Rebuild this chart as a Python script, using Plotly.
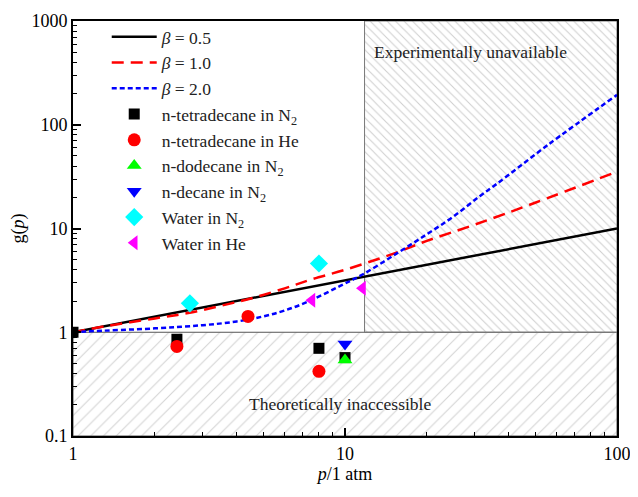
import plotly.graph_objects as go

# ---- data ----
beta05_p = [1, 3.16, 10, 31.6, 100]
beta05_g = [1, 1.78, 3.16, 5.62, 10]

beta10_p = [1, 1.31, 2.0, 2.65, 3.5, 4.6, 6.0, 7.43, 10, 15, 20, 30, 50, 100]
beta10_g = [1, 1.14, 1.36, 1.53, 1.80, 2.15, 2.65, 3.2, 4.0, 5.7, 7.6, 10.9, 17.7, 35.3]

beta20_p = [1, 1.14, 2, 3, 4, 5, 6, 7.4, 9.6, 11.6, 15.5, 20, 25, 31.3, 36.2, 55.3, 100]
beta20_g = [1, 1.02, 1.09, 1.17, 1.27, 1.42, 1.62, 2.0, 2.8, 3.6, 5.75, 8.8, 13.0, 20.5, 27.0, 63.0, 194]

tetN2_p = [1, 2.41, 8.02, 10.0]
tetN2_g = [1, 0.856, 0.70, 0.57]
tetHe_p = [2.41, 4.4, 8.02]
tetHe_g = [0.73, 1.42, 0.42]
dodN2_p = [10.0]
dodN2_g = [0.54]
decN2_p = [10.0]
decN2_g = [0.77]
watN2_p = [2.69, 8.02]
watN2_g = [1.90, 4.6]
watHe_p = [7.56, 11.6]
watHe_g = [2.03, 2.65]

x_range = [1, 100]
y_range = [0.1, 1000]
p_boundary = 11.8
x_ticks = [1, 10, 100]
x_tick_text = ["1", "10", "100"]
y_ticks = [0.1, 1, 10, 100, 1000]
y_tick_text = ["0.1", "1", "10", "100", "1000"]
x_minor = [2, 3, 4, 5, 6, 7, 8, 9, 20, 30, 40, 50, 60, 70, 80, 90]
y_minor = [0.2, 0.3, 0.4, 0.5, 0.6, 0.7, 0.8, 0.9,
           2, 3, 4, 5, 6, 7, 8, 9, 20, 30, 40, 50, 60, 70, 80, 90,
           200, 300, 400, 500, 600, 700, 800, 900]

FONT = "Liberation Serif, Times New Roman, serif"

fig = go.Figure()

# hatched regions
fig.add_trace(go.Scatter(
    x=[x_range[0], x_range[1], x_range[1], x_range[0], x_range[0]],
    y=[y_range[0], y_range[0], 1, 1, y_range[0]],
    mode="lines", fill="toself", fillcolor="rgba(0,0,0,0)",
    fillpattern=dict(shape="/", fgcolor="#a8a8a8", bgcolor="rgba(255,255,255,0)", size=9, solidity=0.12),
    line=dict(color="#555555", width=1), showlegend=False, hoverinfo="skip"))
fig.add_trace(go.Scatter(
    x=[p_boundary, x_range[1], x_range[1], p_boundary, p_boundary],
    y=[1, 1, y_range[1], y_range[1], 1],
    mode="lines", fill="toself", fillcolor="rgba(0,0,0,0)",
    fillpattern=dict(shape="\\", fgcolor="#a0a0a0", bgcolor="rgba(255,255,255,0)", size=6, solidity=0.18),
    line=dict(color="#777777", width=1), showlegend=False, hoverinfo="skip"))

# model curves
fig.add_trace(go.Scatter(x=beta05_p, y=beta05_g, mode="lines", name="<i>β</i> = 0.5",
                         line=dict(color="black", width=2.5)))
fig.add_trace(go.Scatter(x=beta10_p, y=beta10_g, mode="lines", name="<i>β</i> = 1.0",
                         line=dict(color="#ff0000", width=2.5, dash="12px,7px", shape="spline")))
fig.add_trace(go.Scatter(x=beta20_p, y=beta20_g, mode="lines", name="<i>β</i> = 2.0",
                         line=dict(color="#0000ff", width=2.5, dash="5px,3px", shape="spline")))

# experimental points
def pts(x, y, name, color, symbol, size=12):
    fig.add_trace(go.Scatter(x=x, y=y, mode="markers", name=name,
                             marker=dict(color=color, symbol=symbol, size=size, line=dict(width=0))))

pts(tetN2_p, tetN2_g, "n-tetradecane in N<sub>2</sub>", "black", "square", 11)
pts(tetHe_p, tetHe_g, "n-tetradecane in He", "#ff0000", "circle", 13)
pts(dodN2_p, dodN2_g, "n-dodecane in N<sub>2</sub>", "#00ff00", "triangle-up", 13)
pts(decN2_p, decN2_g, "n-decane in N<sub>2</sub>", "#0000ff", "triangle-down", 13)
pts(watN2_p, watN2_g, "Water in N<sub>2</sub>", "#00ffff", "diamond", 14)
pts(watHe_p, watHe_g, "Water in He", "#ff00ff", "triangle-left", 13)

fig.add_annotation(x=1.099, y=2.70, xref="x", yref="y", text="Experimentally unavailable",
                   showarrow=False, xanchor="left", yanchor="middle",
                   font=dict(family=FONT, size=17.5, color="#222222"))
fig.add_annotation(x=0.982, y=-0.69, xref="x", yref="y", text="Theoretically inaccessible",
                   showarrow=False, xanchor="center", yanchor="middle",
                   font=dict(family=FONT, size=17.5, color="#222222"))

axis_common = dict(
    type="log", showgrid=False, zeroline=False, automargin=False,
    showline=True, linecolor="black", linewidth=2, mirror=True,
    ticks="inside", ticklen=8, tickwidth=1.5, tickcolor="black",
    tickfont=dict(family=FONT, size=18, color="black"),
)

fig.update_xaxes(**axis_common, range=[0, 2], tickvals=x_ticks, ticktext=x_tick_text,
                 minor=dict(ticks="inside", ticklen=4, tickwidth=1.2, tickcolor="black",
                            showgrid=False, tickvals=x_minor),
                 title=dict(text="<i>p</i>/1 atm", font=dict(family=FONT, size=18, color="black"), standoff=0))
fig.update_yaxes(**axis_common, range=[-1, 3], tickvals=y_ticks, ticktext=y_tick_text,
                 minor=dict(ticks="inside", ticklen=4, tickwidth=1.2, tickcolor="black",
                            showgrid=False, tickvals=y_minor),
                 title=dict(text="g(<i>p</i>)", font=dict(family=FONT, size=18, color="black"), standoff=6))

fig.update_layout(
    width=630, height=489,
    margin=dict(l=65, r=21, t=11, b=61),
    paper_bgcolor="white", plot_bgcolor="white",
    font=dict(family=FONT, size=16, color="black"),
    showlegend=True,
    legend=dict(x=0.062, y=1.005, xanchor="left", yanchor="top",
                bgcolor="rgba(255,255,255,0)", borderwidth=0,
                font=dict(family=FONT, size=17.5, color="#222222"),
                itemwidth=45, tracegroupgap=0),
)

fig.write_html("out.html")
